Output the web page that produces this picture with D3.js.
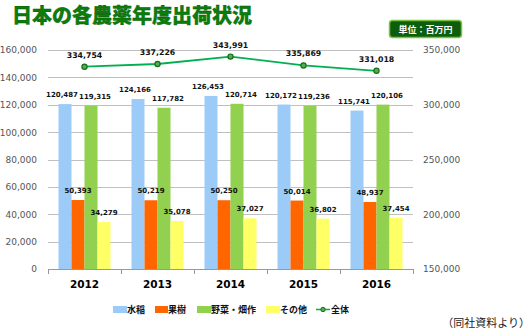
<!DOCTYPE html>
<html><head><meta charset="utf-8">
<script src="https://cdn.jsdelivr.net/npm/d3@7/dist/d3.min.js"></script>
<style>
html,body{margin:0;padding:0;background:#fff;}
svg{display:block;}
</style></head>
<body>
<svg id="c" width="530" height="331"></svg>
<script>
const years = ["2012","2013","2014","2015","2016"];
const seriesNames = ["水稲","果樹","野菜・畑作","その他"];
const rice = [120487,124166,126453,120172,115741];
const fruit = [50393,50219,50250,50014,48937];
const veg = [119315,117782,120714,119236,120106];
const other = [34279,35078,37027,36802,37454];
const total = [334754,337226,343991,335869,331018];
const leftTicks = [0,20000,40000,60000,80000,100000,120000,140000,160000];
const rightTicks = [150000,200000,250000,300000,350000];
const colors = ["#9dcbf8","#ff6600","#92d050","#ffff66"];
const lineColor = "#00b050";

const seriesVals = [rice, fruit, veg, other];
const svg = d3.select("#c");
const fmt = d3.format(",");
const JP = "'Noto Sans CJK JP','Noto Sans',sans-serif";
const NUM = "'DejaVu Sans',Verdana,sans-serif";

const x = d3.scaleBand().domain(years).range([48,413]).padding(0);
const xs = d3.scaleBand().domain(d3.range(4)).range([10.5,62.5]).padding(0);
const yL = d3.scaleLinear().domain([0,160000]).range([269,50]);
const yR = d3.scaleLinear().domain([150000,350000]).range([269,50]);

// gridlines
svg.append("g").selectAll("line").data(leftTicks.slice(1)).join("line")
  .attr("x1",48).attr("x2",413)
  .attr("y1",d=>Math.round(yL(d))+0.5).attr("y2",d=>Math.round(yL(d))+0.5)
  .attr("stroke","#c0c0c0").attr("stroke-width",1);

// left axis labels
const gl = svg.append("g").attr("transform","translate(48,0)")
  .call(d3.axisLeft(yL).tickValues(leftTicks).tickFormat(fmt).tickSize(0).tickPadding(11));
gl.select(".domain").remove();
gl.selectAll("text").attr("font-family",NUM).attr("font-size","9px").attr("fill","#555");

// right axis labels
const gr = svg.append("g").attr("transform","translate(413,0)")
  .call(d3.axisRight(yR).tickValues(rightTicks).tickFormat(fmt).tickSize(0).tickPadding(10));
gr.select(".domain").remove();
gr.selectAll("text").attr("font-family",NUM).attr("font-size","9px").attr("fill","#555");

// bars
const groups = svg.append("g").selectAll("g").data(years).join("g")
  .attr("transform",d=>`translate(${x(d)},0)`);
groups.each(function(yr,i){
  const g = d3.select(this);
  seriesVals.forEach((vals,s)=>{
    g.append("rect").attr("x",xs(s)).attr("width",xs.bandwidth())
      .attr("y",yL(vals[i])).attr("height",yL(0)-yL(vals[i]))
      .attr("fill",colors[s]);
  });
});

// x axis
const gx = svg.append("g").attr("transform","translate(0,269)")
  .call(d3.axisBottom(x).tickSize(0).tickPadding(12));
gx.select(".domain").attr("stroke","#999").attr("d","M48,0.5H413");
gx.selectAll("text").attr("font-family",NUM).attr("font-size","10.5px").attr("font-weight","bold").attr("fill","#000");
svg.append("g").selectAll("line").data(years.concat(["end"])).join("line")
  .attr("x1",(d,i)=>Math.round(48+i*x.bandwidth())+0.5).attr("x2",(d,i)=>Math.round(48+i*x.bandwidth())+0.5)
  .attr("y1",269).attr("y2",274).attr("stroke","#999");

// bar labels
const labelShift = [-3,0,4,0];
groups.each(function(yr,i){
  const g = d3.select(this);
  seriesVals.forEach((vals,s)=>{
    g.append("text").attr("x",xs(s)+xs.bandwidth()/2 + labelShift[s])
      .attr("y",yL(vals[i])-7)
      .attr("text-anchor","middle").attr("font-family",NUM).attr("font-size","7px")
      .attr("font-weight","bold").attr("fill","#111").text(fmt(vals[i]));
  });
});

// line
const cx = d=>x(d)+x.bandwidth()/2;
svg.append("path").datum(total)
  .attr("d",d3.line().x((d,i)=>cx(years[i])).y(d=>yR(d)))
  .attr("fill","none").attr("stroke",lineColor).attr("stroke-width",1.8);
svg.append("g").selectAll("circle").data(total).join("circle")
  .attr("cx",(d,i)=>cx(years[i])).attr("cy",d=>yR(d)).attr("r",2.6)
  .attr("fill","#4caf50").attr("stroke","#1d6b1d").attr("stroke-width",1.2);
svg.append("g").selectAll("text").data(total).join("text")
  .attr("x",(d,i)=>cx(years[i])).attr("y",d=>yR(d)-9)
  .attr("text-anchor","middle").attr("font-family",NUM).attr("font-size","7.8px")
  .attr("font-weight","bold").attr("fill","#111").text(d=>fmt(d));

// title
svg.append("text").attr("x",12).attr("y",23).attr("font-family",JP)
  .attr("font-size","20px").attr("font-weight","900").attr("fill","#0b7d0b")
  .attr("stroke","#055205").attr("stroke-width",0.3)
  .text("日本の各農薬年度出荷状況");

// unit badge
svg.append("rect").attr("x",389.5).attr("y",20.5).attr("width",72).attr("height",17).attr("rx",3)
  .attr("fill","#0c5e0c").attr("stroke","#7cc242").attr("stroke-width",1.5);
svg.append("text").attr("x",425.5).attr("y",32.5).attr("text-anchor","middle")
  .attr("font-family",JP).attr("font-size","9px").attr("font-weight","bold").attr("fill","#fff")
  .text("単位：百万円");

// legend
const legend = svg.append("g");
const legItems = [
  {x:113,w:14,name:seriesNames[0],c:colors[0]},
  {x:155,w:13,name:seriesNames[1],c:colors[1]},
  {x:197,w:14,name:seriesNames[2],c:colors[2]},
  {x:266,w:14,name:seriesNames[3],c:colors[3]}
];
legItems.forEach(it=>{
  legend.append("rect").attr("x",it.x).attr("y",306).attr("width",it.w).attr("height",7).attr("fill",it.c);
  legend.append("text").attr("x",it.x+it.w).attr("y",313).attr("font-family",JP)
    .attr("font-size","9px").attr("font-weight","bold").attr("fill","#111").text(it.name);
});
legend.append("line").attr("x1",316).attr("x2",330).attr("y1",309.5).attr("y2",309.5)
  .attr("stroke",lineColor).attr("stroke-width",1.5);
legend.append("circle").attr("cx",323).attr("cy",309.5).attr("r",2.2)
  .attr("fill","#4caf50").attr("stroke","#1d6b1d").attr("stroke-width",1);
legend.append("text").attr("x",331).attr("y",313).attr("font-family",JP)
  .attr("font-size","9px").attr("font-weight","bold").attr("fill","#111").text("全体");

// source
svg.append("text").attr("x",530).attr("y",327).attr("text-anchor","end")
  .attr("font-family",JP).attr("font-size","11px").attr("fill","#222").text("（同社資料より）");
</script>
</body></html>
